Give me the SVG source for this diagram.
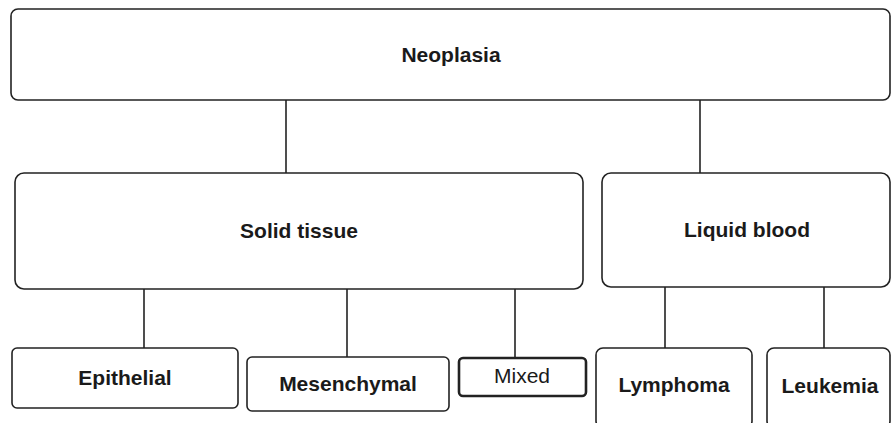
<svg xmlns="http://www.w3.org/2000/svg" width="892" height="423" viewBox="0 0 892 423">
<style>
.box{fill:#fff;stroke:#222;stroke-width:1.6}
.thick{fill:#fff;stroke:#222;stroke-width:2.6}
.lbl{font-family:"Liberation Sans",Arial,sans-serif;font-size:21px;font-weight:bold;fill:#1a1a1a;text-anchor:middle}
.plain{font-family:"Liberation Sans",Arial,sans-serif;font-size:21px;fill:#1a1a1a;text-anchor:middle}
.con{stroke:#222;stroke-width:1.6;fill:none}
</style>
<rect width="892" height="423" fill="#fff"/>
<g id="connectors">
<line class="con" x1="286" y1="100" x2="286" y2="173"/>
<line class="con" x1="700" y1="100" x2="700" y2="173"/>
<line class="con" x1="144" y1="289" x2="144" y2="348"/>
<line class="con" x1="347" y1="289" x2="347" y2="357"/>
<line class="con" x1="515" y1="289" x2="515" y2="358"/>
<line class="con" x1="665" y1="287" x2="665" y2="348"/>
<line class="con" x1="824" y1="287" x2="824" y2="348"/>
</g>
<g id="neoplasia">
<rect class="box" x="11" y="9" width="879" height="91" rx="7"/>
<text class="lbl" x="451" y="62">Neoplasia</text>
</g>
<g id="solid">
<rect class="box" x="15" y="173" width="568" height="116" rx="9"/>
<text class="lbl" x="299" y="238">Solid tissue</text>
</g>
<g id="liquid">
<rect class="box" x="602" y="173" width="288" height="114" rx="9"/>
<text class="lbl" x="747" y="237">Liquid blood</text>
</g>
<g id="epithelial">
<rect class="box" x="12" y="348" width="226" height="60" rx="5"/>
<text class="lbl" x="125" y="385">Epithelial</text>
</g>
<g id="mesenchymal">
<rect class="box" x="247" y="357" width="202" height="54" rx="5"/>
<text class="lbl" x="348" y="391">Mesenchymal</text>
</g>
<g id="mixed">
<rect class="thick" x="459" y="358" width="127" height="38" rx="4"/>
<text class="plain" x="522" y="383">Mixed</text>
</g>
<g id="lymphoma">
<rect class="box" x="596" y="348" width="156" height="80" rx="7"/>
<text class="lbl" x="674" y="392">Lymphoma</text>
</g>
<g id="leukemia">
<rect class="box" x="767" y="348" width="123" height="80" rx="7"/>
<text class="lbl" x="830" y="393">Leukemia</text>
</g>
</svg>
